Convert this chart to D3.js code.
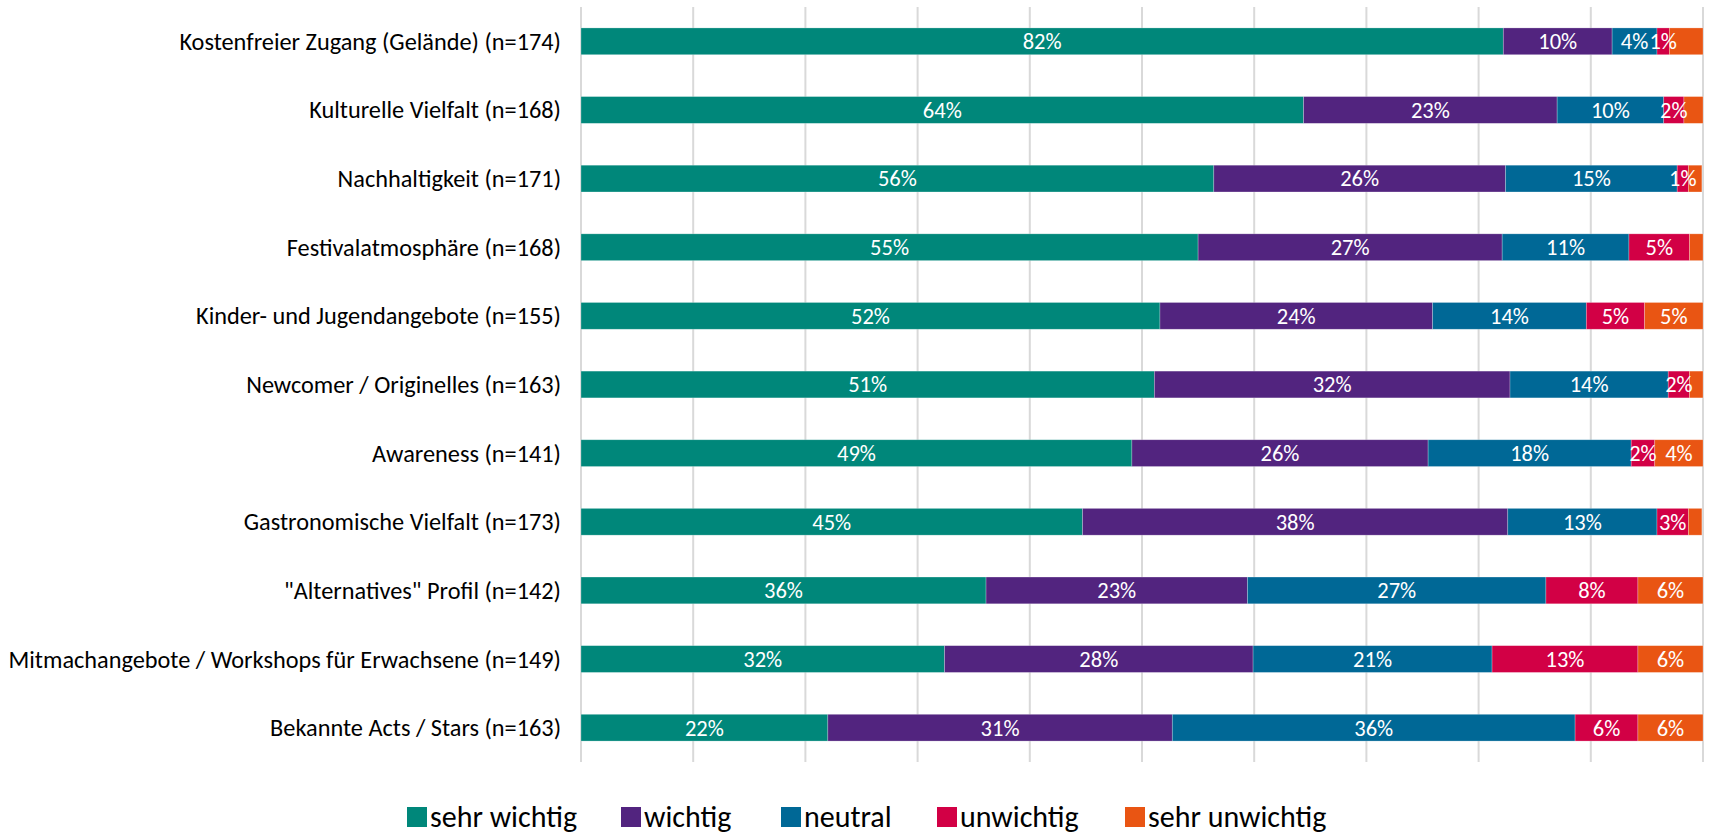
<!DOCTYPE html>
<html lang="de">
<head>
    <meta charset="UTF-8">
    <title>Wichtigkeit Festival-Merkmale</title>
    <script src="https://d3js.org/d3.v7.min.js"></script>
    <style>
        body { margin: 0; background: #fff; }
        svg { font-family: Carlito, Calibri, Lato, sans-serif; }
        .grid line { stroke: #d9d9d9; stroke-width: 2; }
        .cat { font-size: 24.3px; fill: #000; }
        .val { font-size: 22.5px; fill: #fff; }
        .leg { font-size: 30px; fill: #000; }
    </style>
</head>
<body>
    <svg id="chart" width="1711" height="835"></svg>

    <script>
        const categories = [
            "Kostenfreier Zugang (Gelände) (n=174)",
            "Kulturelle Vielfalt (n=168)",
            "Nachhaltigkeit (n=171)",
            "Festivalatmosphäre (n=168)",
            "Kinder- und Jugendangebote (n=155)",
            "Newcomer / Originelles (n=163)",
            "Awareness (n=141)",
            "Gastronomische Vielfalt (n=173)",
            "\"Alternatives\" Profil (n=142)",
            "Mitmachangebote / Workshops für Erwachsene (n=149)",
            "Bekannte Acts / Stars (n=163)"
        ];

        const seriesNames = ["sehr wichtig", "wichtig", "neutral", "unwichtig", "sehr unwichtig"];
        const seriesColors = ["#00877a", "#52247f", "#006896", "#d20045", "#e95513"];

        // Anteile in Prozent, je Kategorie
        const sehrWichtig   = [82.2, 64.4, 56.4, 55.0, 51.6, 51.1, 49.1, 44.7, 36.1, 32.4, 22.0];
        const wichtig       = [ 9.7, 22.6, 26.0, 27.1, 24.3, 31.7, 26.4, 37.9, 23.3, 27.5, 30.7];
        const neutral       = [ 4.0,  9.5, 15.3, 11.3, 13.7, 14.1, 18.1, 13.3, 26.6, 21.3, 35.9];
        const unwichtig     = [ 1.1,  1.8,  1.0,  5.4,  5.2,  1.9,  2.1,  2.8,  8.2, 13.0,  5.6];
        const sehrUnwichtig = [ 3.0,  1.7,  1.2,  1.2,  5.2,  1.2,  4.3,  1.2,  5.8,  5.8,  5.8];

        const seriesValues = [sehrWichtig, wichtig, neutral, unwichtig, sehrUnwichtig];
        const xTicks = [0, 10, 20, 30, 40, 50, 60, 70, 80, 90, 100];

        const svg = d3.select("#chart");
        const plotL = 581, plotR = 1703, plotT = 7, plotB = 762;

        const x = d3.scaleLinear().domain([0, 100]).range([plotL, plotR]);
        const y = d3.scaleBand().domain(categories).range([plotT, plotB])
            .paddingInner(0.61).paddingOuter(0.305);

        // gridlines
        svg.append("g").attr("class", "grid")
            .selectAll("line").data(xTicks).enter().append("line")
            .attr("x1", d => x(d)).attr("x2", d => x(d))
            .attr("y1", plotT).attr("y2", plotB);

        const rows = categories.map((c, i) => {
            let acc = 0;
            return seriesValues.map((vals, s) => {
                const seg = { cat: c, s: s, v: vals[i], x0: acc, x1: acc + vals[i] };
                acc += vals[i];
                return seg;
            });
        });
        const segs = rows.flat();

        svg.append("g").selectAll("rect").data(segs).enter().append("rect")
            .attr("x", d => x(d.x0))
            .attr("y", d => y(d.cat))
            .attr("width", d => x(d.x1) - x(d.x0))
            .attr("height", y.bandwidth())
            .attr("fill", d => seriesColors[d.s])
            .attr("stroke", "#fff").attr("stroke-opacity", 0.35).attr("stroke-width", 0.7);

        // Werte-Beschriftung (kleine "sehr unwichtig"-Werte ohne Label)
        svg.append("g").selectAll("text")
            .data(segs.filter(d => !(d.s === 4 && d.v < 3.5)))
            .enter().append("text")
            .attr("class", "val")
            .attr("x", d => x((d.x0 + d.x1) / 2))
            .attr("y", d => y(d.cat) + y.bandwidth() / 2)
            .attr("dy", "0.35em")
            .attr("text-anchor", "middle")
            .text(d => Math.round(d.v) + "%");

        // Kategorien
        svg.append("g").selectAll("text").data(categories).enter().append("text")
            .attr("class", "cat")
            .attr("x", plotL - 20)
            .attr("y", d => y(d) + y.bandwidth() / 2)
            .attr("dy", "0.35em")
            .attr("text-anchor", "end")
            .text(d => d);

        // Legende
        const legX = [407, 621, 781, 937, 1125];
        const leg = svg.append("g").selectAll("g").data(seriesNames).enter().append("g")
            .attr("transform", (d, i) => `translate(${legX[i]},816)`);
        leg.append("rect").attr("x", 0).attr("y", -9).attr("width", 20).attr("height", 20)
            .attr("fill", (d, i) => seriesColors[i]);
        leg.append("text").attr("class", "leg").attr("x", 23).attr("dy", "0.35em").text(d => d);
    </script>
</body>
</html>
